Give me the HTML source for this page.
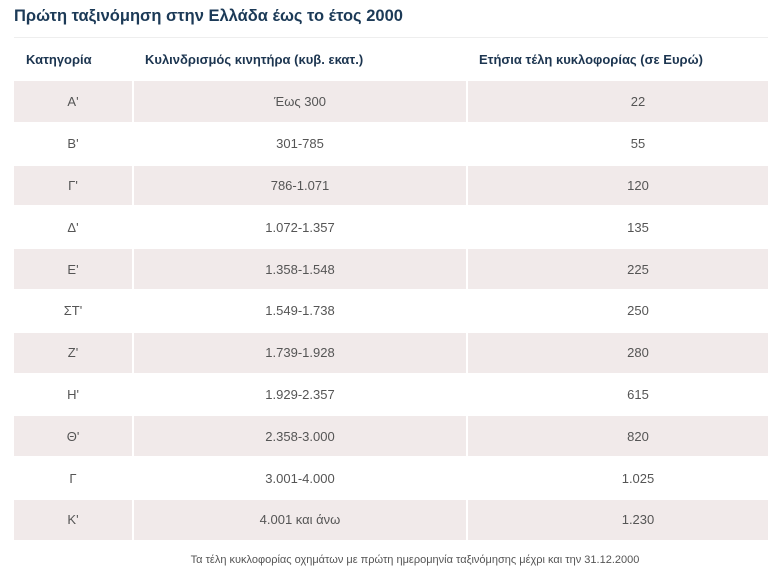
<!DOCTYPE html>
<html><head><meta charset="utf-8"><style>
body{margin:0;width:768px;height:570px;overflow:hidden;background:#fff;font-family:"Liberation Sans",Arial,sans-serif;position:relative}
h1{position:absolute;left:14px;top:7px;margin:0;font-size:16.5px;font-weight:bold;color:#1c3a57;white-space:nowrap}
.wrap{position:absolute;left:14px;top:37px;width:754px;border-top:1px solid #eee}
table{border-collapse:collapse;table-layout:fixed;width:754px}
th{height:43px;box-sizing:border-box;text-align:left;font-size:13px;color:#1c3550;font-weight:bold;padding:0 0 0 12px}
td{height:41.8px;box-sizing:border-box;padding:0;font-size:13px;color:#555;text-align:center;border-bottom:2px solid #fff}
tr.s td{background:#f1eaea}
.c1{width:119px;border-right:2px solid #fff}
.c2{width:334px;border-right:2px solid #fff}
td.c3{padding-left:40px}
.note{position:absolute;left:0;width:830px;top:554px;text-align:center;font-size:11px;color:#555}
</style></head><body>
<h1>Πρώτη ταξινόμηση στην Ελλάδα έως το έτος 2000</h1>
<div class="wrap">
<table>
<colgroup><col style="width:119px"><col style="width:334px"><col></colgroup>
<thead><tr>
<th>Κατηγορία</th>
<th>Κυλινδρισμός κινητήρα (κυβ. εκατ.)</th>
<th>Ετήσια τέλη κυκλοφορίας (σε Ευρώ)</th>
</tr></thead>
<tbody>
<tr class="s"><td class="c1">Α'</td><td class="c2">Έως 300</td><td class="c3">22</td></tr>
<tr><td class="c1">Β'</td><td class="c2">301-785</td><td class="c3">55</td></tr>
<tr class="s"><td class="c1">Γ'</td><td class="c2">786-1.071</td><td class="c3">120</td></tr>
<tr><td class="c1">Δ'</td><td class="c2">1.072-1.357</td><td class="c3">135</td></tr>
<tr class="s"><td class="c1">Ε'</td><td class="c2">1.358-1.548</td><td class="c3">225</td></tr>
<tr><td class="c1">ΣΤ'</td><td class="c2">1.549-1.738</td><td class="c3">250</td></tr>
<tr class="s"><td class="c1">Ζ'</td><td class="c2">1.739-1.928</td><td class="c3">280</td></tr>
<tr><td class="c1">Η'</td><td class="c2">1.929-2.357</td><td class="c3">615</td></tr>
<tr class="s"><td class="c1">Θ'</td><td class="c2">2.358-3.000</td><td class="c3">820</td></tr>
<tr><td class="c1">Γ</td><td class="c2">3.001-4.000</td><td class="c3">1.025</td></tr>
<tr class="s"><td class="c1">Κ'</td><td class="c2">4.001 και άνω</td><td class="c3">1.230</td></tr>
</tbody></table></div>
<div class="note">Τα τέλη κυκλοφορίας οχημάτων με πρώτη ημερομηνία ταξινόμησης μέχρι και την 31.12.2000</div>
</body></html>
